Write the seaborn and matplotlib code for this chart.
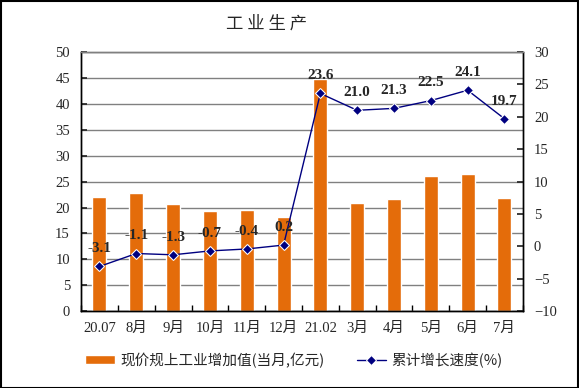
import numpy as np
import pandas as pd
import seaborn as sns
import matplotlib.pyplot as plt
from matplotlib.ticker import MultipleLocator

# Dữ liệu
months = ["20.07", "8月", "9月", "10月", "11月", "12月", "21.02", "3月", "4月", "5月", "6月", "7月"]
value_added = [22.0, 22.8, 20.7, 19.3, 19.5, 18.1, 44.7, 20.8, 21.6, 26.1, 26.4, 21.8]
growth = [-3.1, -1.1, -1.3, -0.7, -0.4, 0.2, 23.6, 21.0, 21.3, 22.5, 24.1, 19.7]
bar_label = "现价规上工业增加值(当月,亿元)"
line_label = "累计增长速度(%)"

sns.set_theme(style="white")
plt.rcParams['font.family'] = ['Liberation Serif', 'Noto Sans CJK SC', 'DejaVu Sans']

df = pd.DataFrame({"month": months, "value": value_added, "growth": growth})

fig = plt.figure(figsize=(5.79, 3.88), dpi=100)
ax = fig.add_axes([0.14, 0.198, 0.763, 0.668])

sns.barplot(data=df, x="month", y="value", color="#E46C0A", saturation=1,
            width=0.38, ax=ax, label=bar_label)
ax.set_ylim(0, 50)
ax.yaxis.set_major_locator(MultipleLocator(5))
ax.grid(axis="y", color="#808080", linewidth=1)
ax.set_axisbelow(True)
ax.set_xlabel("")
ax.set_ylabel("")

ax2 = ax.twinx()
sns.lineplot(x=np.arange(len(months)), y=growth, ax=ax2, color="#000080",
             marker="D", markersize=5, linewidth=1, label=line_label, legend=False)
ax2.set_ylim(-10, 30)
ax2.yaxis.set_major_locator(MultipleLocator(5))
ax.set_xlim(-0.5, len(months) - 0.5)

for i, g in enumerate(growth):
    ax2.annotate(f"{g:.1f}", (i, g), xytext=(0, 8), textcoords="offset points",
                 ha="center", va="bottom", fontsize=11, fontweight="bold",
                 family=["Liberation Serif"])

# Trục và vạch chia
for a in (ax, ax2):
    for s in a.spines.values():
        s.set_color("black")
        s.set_linewidth(1)
    a.spines["top"].set_color("#808080")
ax.tick_params(axis="x", length=0, labelsize=10.5, pad=8)
ax.set_xticks(np.arange(len(months)))
ax.set_xticklabels(months)
ax.set_xticks(np.arange(-0.5, len(months)), minor=True)
ax.tick_params(axis="x", which="minor", direction="in", length=4, color="black", bottom=True)
ax.tick_params(axis="y", labelsize=10.5, length=4, direction="in", left=True, pad=8)
ax2.tick_params(axis="y", labelsize=10.5, length=4, direction="in", right=True, pad=8)

# Chú giải
h1, l1 = ax.get_legend_handles_labels()
h2, l2 = ax2.get_legend_handles_labels()
leg = fig.legend(h1 + h2, l1 + l2, loc="center", bbox_to_anchor=(0.508, 0.072), ncol=2,
                 frameon=False, handlelength=2.0, handleheight=0.5, handletextpad=0.4,
                 columnspacing=2.2, prop={"family": ["Noto Sans CJK SC"], "size": 10.5})
if ax.get_legend():
    ax.get_legend().remove()

fig.text(0.461, 0.94, "工 业 生 产", ha="center", va="center", fontsize=12.5,
         family=["Noto Sans CJK SC"])

fig.patches.append(plt.Rectangle((0.001, 0.001), 0.997, 0.997, transform=fig.transFigure,
                                 fill=False, edgecolor="black", linewidth=1.5))

fig.savefig("out.png", dpi=100)
